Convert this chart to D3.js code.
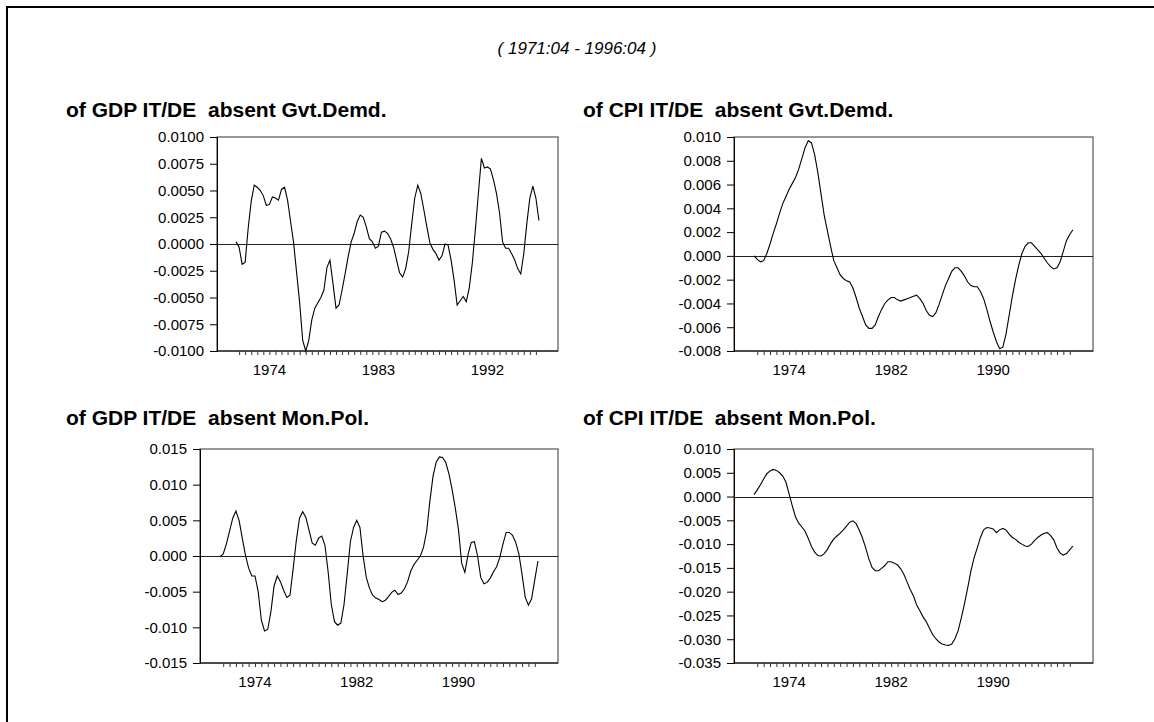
<!DOCTYPE html>
<html lang="en">
<head>
<meta charset="UTF-8">
<title>IT/DE counterfactual differences</title>
<script src="https://cdnjs.cloudflare.com/ajax/libs/d3/7.8.5/d3.min.js"></script>
<style>
  body { margin: 0; background: #fff; }
  svg { display: block; font-family: Arial, "Liberation Sans", sans-serif; }
</style>
</head>
<body>
<svg id="chart" width="1154" height="722"></svg>
<script>
// sample 1971:04 - 1996:04, quarterly (index 0 = 1971Q4)
const sampleLabel = "( 1971:04 - 1996:04 )";
const firstYear = 1971, firstQuarter = 4;

const gdpGvt = [
  0.0002, -0.0003, -0.0019, -0.0017, 0.0015, 0.0040, 0.0055, 0.0053, 0.0050, 0.0045,
  0.0036, 0.0037, 0.0044, 0.0043, 0.0041, 0.0051, 0.0053, 0.0041, 0.0021, 0.0001,
  -0.0027, -0.0055, -0.0090, -0.0100, -0.0090, -0.0071, -0.0060, -0.0055, -0.0050, -0.0043,
  -0.0022, -0.0015, -0.0037, -0.0060, -0.0057, -0.0043, -0.0028, -0.0012, 0.0002, 0.0010,
  0.0021, 0.0027, 0.0025, 0.0016, 0.0005, 0.0002, -0.0004, -0.0002, 0.0011, 0.0012,
  0.0010, 0.0005, -0.0003, -0.0015, -0.0027, -0.0031, -0.0023, -0.0007, 0.0019, 0.0043,
  0.0055, 0.0047, 0.0032, 0.0016, 0.0001, -0.0005, -0.0009, -0.0015, -0.0011, 0.0000,
  -0.0001, -0.0015, -0.0034, -0.0057, -0.0053, -0.0049, -0.0054, -0.0041, -0.0018, 0.0013,
  0.0047, 0.0080, 0.0071, 0.0072, 0.0070, 0.0060, 0.0047, 0.0029, 0.0002, -0.0004,
  -0.0004, -0.0009, -0.0015, -0.0023, -0.0028, -0.0009, 0.0019, 0.0043, 0.0054, 0.0043,
  0.0022
];

const cpiGvt = [
  0.0000, -0.0003, -0.0005, -0.0004, 0.0002, 0.0010, 0.0019, 0.0027, 0.0036, 0.0044,
  0.0050, 0.0056, 0.0061, 0.0066, 0.0073, 0.0082, 0.0091, 0.0097, 0.0095, 0.0085,
  0.0070, 0.0052, 0.0034, 0.0021, 0.0008, -0.0004, -0.0010, -0.0016, -0.0019, -0.0021,
  -0.0022, -0.0027, -0.0035, -0.0044, -0.0051, -0.0058, -0.0061, -0.0061, -0.0058, -0.0051,
  -0.0045, -0.0040, -0.0037, -0.0035, -0.0035, -0.0037, -0.0038, -0.0037, -0.0036, -0.0035,
  -0.0034, -0.0033, -0.0036, -0.0040, -0.0046, -0.0050, -0.0051, -0.0048, -0.0041, -0.0033,
  -0.0025, -0.0019, -0.0013, -0.0010, -0.0010, -0.0013, -0.0017, -0.0022, -0.0025, -0.0026,
  -0.0026, -0.0030, -0.0036, -0.0045, -0.0055, -0.0064, -0.0072, -0.0078, -0.0077, -0.0066,
  -0.0050, -0.0034, -0.0020, -0.0008, 0.0002, 0.0008, 0.0011, 0.0011, 0.0008, 0.0005,
  0.0002, -0.0002, -0.0006, -0.0009, -0.0011, -0.0010, -0.0005, 0.0004, 0.0013, 0.0018,
  0.0022
];

const gdpMon = [
  -0.0001, 0.0003, 0.0017, 0.0035, 0.0053, 0.0063, 0.0050, 0.0025, 0.0001, -0.0017,
  -0.0028, -0.0028, -0.0050, -0.0090, -0.0105, -0.0103, -0.0078, -0.0042, -0.0028, -0.0036,
  -0.0048, -0.0058, -0.0055, -0.0018, 0.0022, 0.0053, 0.0062, 0.0054, 0.0036, 0.0018,
  0.0015, 0.0025, 0.0028, 0.0015, -0.0022, -0.0068, -0.0092, -0.0097, -0.0094, -0.0068,
  -0.0025, 0.0020, 0.0040, 0.0050, 0.0040, 0.0000, -0.0030, -0.0045, -0.0055, -0.0059,
  -0.0061, -0.0064, -0.0062, -0.0057, -0.0051, -0.0048, -0.0054, -0.0052, -0.0046, -0.0036,
  -0.0021, -0.0012, -0.0006, 0.0000, 0.0012, 0.0035, 0.0077, 0.0112, 0.0132, 0.0139,
  0.0138, 0.0131, 0.0115, 0.0093, 0.0067, 0.0037, -0.0010, -0.0023, 0.0002, 0.0019,
  0.0020, 0.0000, -0.0030, -0.0039, -0.0037, -0.0031, -0.0022, -0.0015, -0.0002, 0.0017,
  0.0033, 0.0033, 0.0029, 0.0019, 0.0003, -0.0026, -0.0058, -0.0069, -0.0060, -0.0033,
  -0.0007
];

const cpiMon = [
  0.0004, 0.0014, 0.0025, 0.0037, 0.0048, 0.0054, 0.0057, 0.0055, 0.0050, 0.0043,
  0.0030, 0.0005, -0.0020, -0.0043, -0.0056, -0.0064, -0.0073, -0.0088, -0.0105, -0.0117,
  -0.0124, -0.0125, -0.0120, -0.0111, -0.0099, -0.0089, -0.0083, -0.0077, -0.0070, -0.0062,
  -0.0054, -0.0051, -0.0057, -0.0071, -0.0087, -0.0108, -0.0131, -0.0149, -0.0156, -0.0156,
  -0.0151, -0.0145, -0.0137, -0.0137, -0.0140, -0.0144, -0.0152, -0.0164, -0.0180, -0.0196,
  -0.0209, -0.0228, -0.0240, -0.0253, -0.0263, -0.0277, -0.0290, -0.0299, -0.0306, -0.0310,
  -0.0312, -0.0313, -0.0310, -0.0299, -0.0282, -0.0255, -0.0225, -0.0192, -0.0157, -0.0129,
  -0.0108, -0.0086, -0.0070, -0.0065, -0.0066, -0.0068, -0.0076, -0.0070, -0.0067, -0.0070,
  -0.0079, -0.0086, -0.0090, -0.0096, -0.0100, -0.0104, -0.0105, -0.0100, -0.0092, -0.0086,
  -0.0081, -0.0077, -0.0076, -0.0082, -0.0091, -0.0108, -0.0119, -0.0123, -0.0120, -0.0112,
  -0.0104
];

// tick values / labels
const gdpGvtTicks = [-0.01, -0.0075, -0.005, -0.0025, 0, 0.0025, 0.005, 0.0075, 0.01];
const cpiGvtTicks = [-0.008, -0.006, -0.004, -0.002, 0, 0.002, 0.004, 0.006, 0.008, 0.01];
const gdpMonTicks = [-0.015, -0.01, -0.005, 0, 0.005, 0.01, 0.015];
const cpiMonTicks = [-0.035, -0.03, -0.025, -0.02, -0.015, -0.01, -0.005, 0, 0.005, 0.01];
const yearsWide = [1974, 1983, 1992];
const yearsNarrow = [1974, 1982, 1990];

const titles = [
  "of GDP IT/DE  absent Gvt.Demd.",
  "of CPI IT/DE  absent Gvt.Demd.",
  "of GDP IT/DE  absent Mon.Pol.",
  "of CPI IT/DE  absent Mon.Pol."
];

// layout of the four panels
const panels = [
  { title: titles[0], data: gdpGvt, ticks: gdpGvtTicks, fmt: ".4f", years: yearsWide,
    tx: 66, ty: 117, left: 217, top: 137, right: 558, bottom: 351 },
  { title: titles[1], data: cpiGvt, ticks: cpiGvtTicks, fmt: ".3f", years: yearsNarrow,
    tx: 583, ty: 117, left: 734, top: 137, right: 1093, bottom: 351 },
  { title: titles[2], data: gdpMon, ticks: gdpMonTicks, fmt: ".3f", years: yearsNarrow,
    tx: 66, ty: 425, left: 200, top: 449, right: 558, bottom: 663 },
  { title: titles[3], data: cpiMon, ticks: cpiMonTicks, fmt: ".3f", years: yearsNarrow,
    tx: 583, ty: 425, left: 734, top: 449, right: 1093, bottom: 663 }
];

const locale = d3.formatLocale({ decimal: ".", thousands: ",", grouping: [3], currency: ["", ""], minus: "-" });
const svg = d3.select("#chart");

// outer frame (only left/top edges are inside the picture)
svg.append("rect")
  .attr("x", 7).attr("y", 7)
  .attr("width", 1160).attr("height", 730)
  .attr("fill", "none").attr("stroke", "#000").attr("stroke-width", 2);

svg.append("text")
  .attr("x", 577).attr("y", 54)
  .attr("text-anchor", "middle")
  .style("font-size", "17px").style("font-style", "italic")
  .text(sampleLabel);

// quarter index for the mid-year (Q3) of a given year
const yearIndex = y => (y - firstYear) * 4 + 3 - firstQuarter;

panels.forEach(p => {
  const n = p.data.length;
  const x = d3.scaleLinear().domain([-6.3, n - 1 + 6.3]).range([p.left, p.right]);
  const y = d3.scaleLinear().domain([p.ticks[0], p.ticks[p.ticks.length - 1]]).range([p.bottom, p.top]);
  const g = svg.append("g");

  g.append("text")
    .attr("x", p.tx).attr("y", p.ty)
    .style("font-size", "21px").style("font-weight", "bold")
    .style("white-space", "pre")
    .text(p.title);

  // box
  g.append("rect")
    .attr("x", p.left).attr("y", p.top)
    .attr("width", p.right - p.left).attr("height", p.bottom - p.top)
    .attr("fill", "none").attr("stroke", "#555").attr("stroke-width", 1.2);

  // zero line
  g.append("line")
    .attr("x1", p.left).attr("x2", p.right)
    .attr("y1", Math.round(y(0)) + 0.5).attr("y2", Math.round(y(0)) + 0.5)
    .attr("stroke", "#222");

  // y axis
  const yAxis = d3.axisLeft(y).tickValues(p.ticks).tickFormat(locale.format(p.fmt))
    .tickSize(7).tickPadding(6);
  const ya = g.append("g").attr("transform", `translate(${p.left},0)`).call(yAxis);
  ya.select(".domain").attr("stroke", "#000");
  ya.selectAll("text").style("font-size", "15px").attr("fill", "#000").attr("font-family", null);

  // x axis: half-year minor ticks plus year labels
  const minor = d3.range(1, n - 1, 2);
  const xAxis = d3.axisBottom(x).tickValues(minor).tickSize(4).tickFormat("");
  const xa = g.append("g").attr("transform", `translate(0,${p.bottom})`).call(xAxis);
  xa.select(".domain").attr("stroke", "#000").attr("d", `M${p.left},0H${p.right}`);
  xa.selectAll(".tick line").attr("stroke", "#333");

  g.selectAll(".yr").data(p.years).join("text")
    .attr("x", d => x(yearIndex(d)))
    .attr("y", p.bottom + 24)
    .attr("text-anchor", "middle")
    .style("font-size", "15px")
    .text(d => d);

  // series line
  const line = d3.line().x((d, i) => x(i)).y(d => y(d));
  g.append("path")
    .datum(p.data)
    .attr("d", line)
    .attr("fill", "none")
    .attr("stroke", "#000")
    .attr("stroke-width", 1.1);
});
</script>
</body>
</html>
